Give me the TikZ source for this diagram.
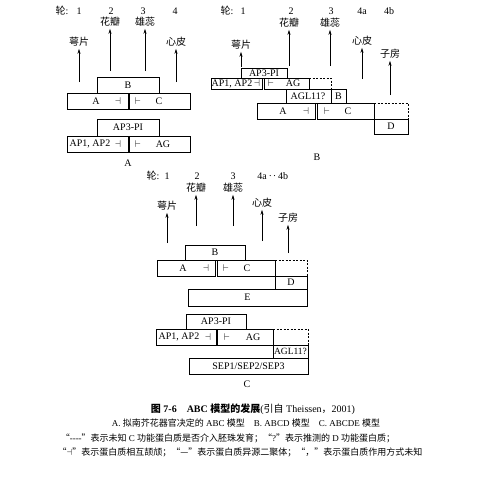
\documentclass[tikz,border=0pt]{standalone}
\usepackage{fontspec}
\setmainfont{Liberation Serif}
\newfontfamily\cjk{Noto Sans CJK SC}
\newcommand{\zh}[1]{{\cjk #1}}
\usetikzlibrary{arrows.meta}
\tikzset{
  box/.style={draw, line width=0.6pt},
  dbox/.style={draw, line width=0.6pt, dash pattern=on 2pt off 1.5pt},
  whorl/.style={font=\fontsize{10}{10}\selectfont, inner sep=0pt},
  organ/.style={font=\cjk\fontsize{10}{10}\selectfont, inner sep=1pt},
  lbl/.style={font=\fontsize{10}{10}\selectfont, inner sep=0pt},
  capt/.style={font=\fontsize{9}{9}\selectfont, inner sep=0pt},
  up/.style={-{Stealth[length=5pt,width=3pt]}, line width=0.6pt, shorten >=1pt},
}
\begin{document}
\begin{tikzpicture}[x=1pt,y=-1pt]
\useasboundingbox (0,0) rectangle (479,490);
% ---------- A
\node[whorl] (wAt) at (62,11) {\zh{轮}:};
\foreach \x/\n in {79/1,111/2,143/3,175/4}
  {\node[whorl] (wA\n) at (\x,11) {\n};}
\node[organ] (sepA) at (79,42) {萼片};
\node[organ] (petA) at (110,22) {花瓣};
\node[organ] (staA) at (145,22) {雄蕊};
\node[organ] (carA) at (176,42) {心皮};
\coordinate (sA1) at (79,82);
\coordinate (sA2) at (110,71);
\coordinate (sA3) at (145,71);
\coordinate (sA4) at (176,82);
\draw[up] (sA1) -- (sepA);
\draw[up] (sA2) -- (petA);
\draw[up] (sA3) -- (staA);
\draw[up] (sA4) -- (carA);
\draw[box] (97,77) rectangle (159,93);
\node[lbl] (bA) at (128,85) {B};
\draw[box] (67,93) rectangle (128,109);
\draw[box] (129.5,93) rectangle (190,109);
\node[lbl] (aA) at (96,101) {A};
\node[lbl] (iA1) at (118,101) {$\dashv$};
\node[lbl] (iA2) at (138,101) {$\vdash$};
\node[lbl] (cA) at (159,101) {C};
\draw[box] (97,119) rectangle (159,136);
\node[lbl] (pA) at (128,127.5) {AP3-PI};
\draw[box] (67,136) rectangle (128,152);
\draw[box] (129.5,136) rectangle (190,152);
\node[lbl] (apA) at (90,144) {AP1, AP2};
\node[lbl] (jA1) at (118,144) {$\dashv$};
\node[lbl] (jA2) at (138,144) {$\vdash$};
\node[lbl] (agA) at (163,144) {AG};
\node[lbl] (tA) at (128,163) {A};
% ---------- B
\node[whorl] (wBt) at (227,11) {\zh{轮}:};
\foreach \x/\n in {243/1,291/2,331/3,362/4a,389/4b}
  {\node[whorl] (wB\n) at (\x,11) {\n};}
\node[organ] (sepB) at (241,45) {萼片};
\node[organ] (petB) at (289,23) {花瓣};
\node[organ] (staB) at (330,23) {雄蕊};
\node[organ] (carB) at (362,41) {心皮};
\node[organ] (ovaB) at (390,54) {子房};
\coordinate (sB1) at (241,67);
\coordinate (sB2) at (289,66);
\coordinate (sB3) at (330,66);
\coordinate (sB4) at (362,79);
\coordinate (sB5) at (390,95);
\draw[up] (sB1) -- (sepB);
\draw[up] (sB2) -- (petB);
\draw[up] (sB3) -- (staB);
\draw[up] (sB4) -- (carB);
\draw[up] (sB5) -- (ovaB);
\draw[box] (241,68) rectangle (287,78);
\node[lbl] (pB) at (264,73) {AP3-PI};
\draw[box] (211,78) rectangle (262.5,89);
\draw[box] (264,78) rectangle (309,89);
\node[lbl] (apB) at (232,83.5) {AP1, AP2};
\node[lbl] (jB1) at (257,83.5) {$\dashv$};
\node[lbl] (jB2) at (271,83.5) {$\vdash$};
\node[lbl] (agB) at (293,83.5) {AG};
\draw[dbox] (309,78) -- (331,78) -- (331,89);
\draw[box] (286,89) rectangle (331,103);
\draw[box] (331,89) rectangle (346,103);
\node[lbl] (dB) at (308,96) {AGL11?};
\node[lbl] (bB) at (338.5,96) {B};
\draw[box] (257,103) rectangle (315.5,119);
\draw[box] (317,103) rectangle (374,119);
\node[lbl] (aB) at (283,111) {A};
\node[lbl] (iB1) at (306,111) {$\dashv$};
\node[lbl] (iB2) at (327,111) {$\vdash$};
\node[lbl] (cB) at (348,111) {C};
\draw[dbox] (374,103) -- (408,103) -- (408,119);
\draw[box] (374,119) rectangle (408,134);
\node[lbl] (eB) at (391,126.5) {D};
\node[lbl] (tB) at (317,157) {B};
% ---------- C
\node[whorl] (wCt) at (153,176) {\zh{轮}:};
\foreach \x/\n in {167/1,197/2,233/3,262/4a,283/4b}
  {\node[whorl] (wC\n) at (\x,176) {\n};}
\node[whorl] (wCd) at (272.5,176) {.\,.};
\node[organ] (sepC) at (167,206) {萼片};
\node[organ] (petC) at (196,188) {花瓣};
\node[organ] (staC) at (233,188) {雄蕊};
\node[organ] (carC) at (262,203) {心皮};
\node[organ] (ovaC) at (288,218) {子房};
\coordinate (sC1) at (167,243);
\coordinate (sC2) at (196,226);
\coordinate (sC3) at (233,226);
\coordinate (sC4) at (262,241);
\coordinate (sC5) at (288,253);
\draw[up] (sC1) -- (sepC);
\draw[up] (sC2) -- (petC);
\draw[up] (sC3) -- (staC);
\draw[up] (sC4) -- (carC);
\draw[up] (sC5) -- (ovaC);
\draw[box] (185,245) rectangle (245,260);
\node[lbl] (bC) at (215,252.5) {B};
\draw[box] (157,260) rectangle (215.5,276);
\draw[box] (217,260) rectangle (275,276);
\node[lbl] (aC) at (183,268) {A};
\node[lbl] (iC1) at (206,268) {$\dashv$};
\node[lbl] (iC2) at (226,268) {$\vdash$};
\node[lbl] (cC) at (247,268) {C};
\draw[dbox] (275,260) -- (307,260) -- (307,276);
\draw[box] (275,276) rectangle (307,289);
\node[lbl] (dC) at (291,282.5) {D};
\draw[box] (188,289) rectangle (307,306);
\node[lbl] (eC) at (247.5,297.5) {E};
\draw[box] (186,314) rectangle (246,329);
\node[lbl] (pC) at (216,321.5) {AP3-PI};
\draw[box] (156,329) rectangle (216,345);
\draw[box] (217.5,329) rectangle (273,345);
\node[lbl] (apC) at (179,337) {AP1, AP2};
\node[lbl] (jC1) at (208,337) {$\dashv$};
\node[lbl] (jC2) at (227,337) {$\vdash$};
\node[lbl] (agC) at (253,337) {AG};
\draw[dbox] (273,329) -- (308,329) -- (308,345);
\draw[box] (273,345) rectangle (308,358);
\node[lbl, font=\fontsize{9.5}{9.5}\selectfont] (gC) at (290.5,351.5) {AGL11?};
\draw[box] (189,358) rectangle (308,374);
\node[lbl] (sepsC) at (248.5,366) {SEP1/SEP2/SEP3};
\node[lbl] (tC) at (247,384) {C};
% ---------- caption
\node[capt, font=\fontsize{10}{10}\selectfont] (cap1) at (253,409)
  {{\bfseries\zh{图} 7-6\quad ABC \zh{模型的发展}}(\zh{引自} Theissen\zh{，}2001)};
\node[capt] (cap2) at (246,423)
  {A. \zh{拟南芥花器官决定的} ABC \zh{模型}\quad B. ABCD \zh{模型}\quad C. ABCDE \zh{模型}};
\node[capt] (cap3) at (228,438)
  {\zh{“}{-}{-}{-}{-}\zh{”表示未知} C \zh{功能蛋白质是否介入胚珠发育；“}?\zh{”表示推测的} D \zh{功能蛋白质；}};
\node[capt] (cap4) at (240,452)
  {\zh{“}$\dashv$\zh{”表示蛋白质相互颉颃；“—”表示蛋白质异源二聚体；“，”表示蛋白质作用方式未知}};
\end{tikzpicture}
\end{document}
